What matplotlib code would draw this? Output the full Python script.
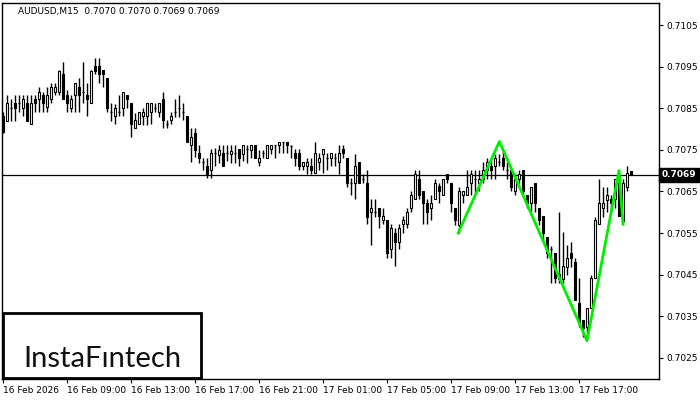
import matplotlib
matplotlib.use("Agg")
import matplotlib.pyplot as plt
import matplotlib.transforms as mtransforms
from matplotlib.patches import Rectangle
import numpy as np
import pandas as pd

# ------------------------------------------------------
# DATA  (AUDUSD M15)
# ------------------------------------------------------

symbol = "AUDUSD,M15"
last_ohlc = "0.7070 0.7070 0.7069 0.7069"
last_price = 0.7069
first_bar_time = "2026-02-16 05:00"

opens = [
    0.70832, 0.70820, 0.70850, 0.70863, 0.70863, 0.70850, 0.70863, 0.70812, 0.70871, 0.70871,
    0.70882, 0.70852, 0.70871, 0.70890, 0.70890, 0.70932, 0.70882, 0.70850, 0.70882, 0.70900,
    0.70890, 0.70882, 0.70862, 0.70951, 0.70951, 0.70942, 0.70922, 0.70840, 0.70831, 0.70840,
    0.70850, 0.70882, 0.70862, 0.70802, 0.70812, 0.70831, 0.70831, 0.70840, 0.70850, 0.70840,
    0.70871, 0.70812, 0.70822, 0.70840, 0.70850, 0.70840, 0.70831, 0.70762, 0.70791, 0.70742,
    0.70721, 0.70711, 0.70701, 0.70742, 0.70738, 0.70742, 0.70742, 0.70739, 0.70742, 0.70751,
    0.70740, 0.70751, 0.70750, 0.70762, 0.70720, 0.70742, 0.70730, 0.70751, 0.70762, 0.70762,
    0.70770, 0.70770, 0.70758, 0.70742, 0.70742, 0.70710, 0.70710, 0.70712, 0.70694, 0.70721,
    0.70740, 0.70730, 0.70730, 0.70730, 0.70720, 0.70751, 0.70730, 0.70670, 0.70670, 0.70720,
    0.70681, 0.70670, 0.70601, 0.70601, 0.70609, 0.70581, 0.70581, 0.70511, 0.70551, 0.70529,
    0.70571, 0.70571, 0.70609, 0.70631, 0.70681, 0.70651, 0.70621, 0.70610, 0.70631, 0.70662,
    0.70641, 0.70692, 0.70671, 0.70610, 0.70569, 0.70641, 0.70641, 0.70670, 0.70681, 0.70670,
    0.70681, 0.70701, 0.70711, 0.70711, 0.70720, 0.70730, 0.70701, 0.70701, 0.70650, 0.70681,
    0.70701, 0.70641, 0.70621, 0.70671, 0.70610, 0.70591, 0.70540, 0.70511, 0.70501, 0.70439,
    0.70439, 0.70469, 0.70501, 0.70481, 0.70381, 0.70341, 0.70325, 0.70369, 0.70441, 0.70571,
    0.70610, 0.70630, 0.70631, 0.70631, 0.70670, 0.70579, 0.70661, 0.70700,
]

highs = [
    0.70842, 0.70882, 0.70871, 0.70882, 0.70882, 0.70882, 0.70882, 0.70882, 0.70882, 0.70900,
    0.70890, 0.70901, 0.70910, 0.70910, 0.70942, 0.70960, 0.70894, 0.70882, 0.70910, 0.70923,
    0.70960, 0.70910, 0.70942, 0.70970, 0.70970, 0.70942, 0.70922, 0.70862, 0.70860, 0.70882,
    0.70890, 0.70882, 0.70862, 0.70839, 0.70840, 0.70850, 0.70862, 0.70862, 0.70862, 0.70862,
    0.70890, 0.70822, 0.70840, 0.70871, 0.70882, 0.70862, 0.70831, 0.70802, 0.70802, 0.70762,
    0.70730, 0.70730, 0.70751, 0.70754, 0.70762, 0.70762, 0.70762, 0.70762, 0.70762, 0.70751,
    0.70762, 0.70762, 0.70762, 0.70762, 0.70750, 0.70750, 0.70762, 0.70762, 0.70762, 0.70770,
    0.70770, 0.70770, 0.70762, 0.70751, 0.70751, 0.70720, 0.70730, 0.70730, 0.70770, 0.70742,
    0.70751, 0.70742, 0.70742, 0.70742, 0.70762, 0.70762, 0.70730, 0.70682, 0.70740, 0.70720,
    0.70692, 0.70701, 0.70631, 0.70631, 0.70609, 0.70609, 0.70581, 0.70571, 0.70561, 0.70571,
    0.70591, 0.70609, 0.70651, 0.70701, 0.70701, 0.70651, 0.70631, 0.70641, 0.70681, 0.70671,
    0.70681, 0.70692, 0.70671, 0.70610, 0.70661, 0.70651, 0.70701, 0.70701, 0.70701, 0.70701,
    0.70720, 0.70730, 0.70730, 0.70740, 0.70740, 0.70750, 0.70720, 0.70701, 0.70692, 0.70701,
    0.70701, 0.70641, 0.70661, 0.70671, 0.70610, 0.70591, 0.70540, 0.70519, 0.70501, 0.70601,
    0.70553, 0.70521, 0.70529, 0.70489, 0.70441, 0.70341, 0.70369, 0.70449, 0.70589, 0.70681,
    0.70661, 0.70661, 0.70641, 0.70681, 0.70681, 0.70681, 0.70710, 0.70700,
]

lows = [
    0.70790, 0.70820, 0.70820, 0.70820, 0.70842, 0.70831, 0.70820, 0.70812, 0.70842, 0.70842,
    0.70842, 0.70842, 0.70862, 0.70882, 0.70882, 0.70871, 0.70842, 0.70842, 0.70842, 0.70842,
    0.70862, 0.70831, 0.70862, 0.70932, 0.70910, 0.70900, 0.70842, 0.70820, 0.70812, 0.70831,
    0.70831, 0.70850, 0.70780, 0.70802, 0.70812, 0.70810, 0.70810, 0.70812, 0.70840, 0.70830,
    0.70802, 0.70802, 0.70812, 0.70830, 0.70830, 0.70822, 0.70770, 0.70721, 0.70733, 0.70718,
    0.70701, 0.70682, 0.70682, 0.70710, 0.70718, 0.70710, 0.70722, 0.70718, 0.70718, 0.70710,
    0.70722, 0.70718, 0.70730, 0.70730, 0.70710, 0.70730, 0.70730, 0.70740, 0.70730, 0.70742,
    0.70742, 0.70742, 0.70730, 0.70710, 0.70702, 0.70702, 0.70692, 0.70692, 0.70694, 0.70702,
    0.70694, 0.70702, 0.70710, 0.70710, 0.70692, 0.70730, 0.70660, 0.70641, 0.70631, 0.70670,
    0.70670, 0.70571, 0.70521, 0.70589, 0.70561, 0.70571, 0.70489, 0.70489, 0.70471, 0.70511,
    0.70551, 0.70561, 0.70601, 0.70631, 0.70631, 0.70571, 0.70571, 0.70581, 0.70631, 0.70621,
    0.70641, 0.70670, 0.70601, 0.70569, 0.70549, 0.70621, 0.70641, 0.70641, 0.70641, 0.70651,
    0.70670, 0.70681, 0.70681, 0.70681, 0.70711, 0.70701, 0.70681, 0.70651, 0.70641, 0.70670,
    0.70641, 0.70610, 0.70601, 0.70601, 0.70569, 0.70533, 0.70490, 0.70429, 0.70429, 0.70429,
    0.70429, 0.70449, 0.70469, 0.70389, 0.70325, 0.70301, 0.70301, 0.70369, 0.70441, 0.70571,
    0.70589, 0.70601, 0.70601, 0.70610, 0.70590, 0.70571, 0.70650, 0.70690,
]

closes = [
    0.70793, 0.70862, 0.70850, 0.70850, 0.70863, 0.70871, 0.70820, 0.70863, 0.70863, 0.70890,
    0.70862, 0.70882, 0.70900, 0.70900, 0.70940, 0.70871, 0.70862, 0.70871, 0.70910, 0.70882,
    0.70890, 0.70871, 0.70940, 0.70940, 0.70932, 0.70932, 0.70850, 0.70840, 0.70850, 0.70840,
    0.70890, 0.70871, 0.70812, 0.70822, 0.70840, 0.70840, 0.70862, 0.70862, 0.70850, 0.70862,
    0.70822, 0.70812, 0.70831, 0.70840, 0.70850, 0.70840, 0.70770, 0.70780, 0.70750, 0.70730,
    0.70721, 0.70690, 0.70742, 0.70742, 0.70750, 0.70710, 0.70742, 0.70748, 0.70742, 0.70730,
    0.70762, 0.70751, 0.70762, 0.70730, 0.70730, 0.70742, 0.70762, 0.70762, 0.70762, 0.70770,
    0.70770, 0.70762, 0.70758, 0.70730, 0.70710, 0.70720, 0.70720, 0.70702, 0.70742, 0.70730,
    0.70751, 0.70730, 0.70742, 0.70730, 0.70742, 0.70742, 0.70670, 0.70670, 0.70710, 0.70670,
    0.70681, 0.70589, 0.70609, 0.70601, 0.70591, 0.70591, 0.70501, 0.70561, 0.70529, 0.70561,
    0.70581, 0.70601, 0.70641, 0.70692, 0.70641, 0.70621, 0.70601, 0.70621, 0.70671, 0.70651,
    0.70681, 0.70681, 0.70621, 0.70581, 0.70651, 0.70651, 0.70661, 0.70692, 0.70681, 0.70681,
    0.70701, 0.70720, 0.70701, 0.70730, 0.70720, 0.70711, 0.70701, 0.70660, 0.70681, 0.70692,
    0.70650, 0.70621, 0.70661, 0.70621, 0.70581, 0.70549, 0.70501, 0.70511, 0.70441, 0.70451,
    0.70471, 0.70489, 0.70489, 0.70389, 0.70333, 0.70321, 0.70369, 0.70441, 0.70581, 0.70621,
    0.70621, 0.70641, 0.70621, 0.70681, 0.70590, 0.70670, 0.70694, 0.70690,
]

# pattern (green zigzag): bar positions and prices of its turning points
pattern_bars = [113.8, 124.1, 146.0, 154.0, 155.0]
pattern_prices = [0.70550, 0.70770, 0.70291, 0.70700, 0.70571]

price_ticks = [0.7025, 0.7035, 0.7045, 0.7055, 0.7065, 0.7075, 0.7085, 0.7095, 0.7105]
time_tick_every = 16

# ------------------------------------------------------
# FIGURE
# ------------------------------------------------------

o = np.array(opens)
h = np.array(highs)
l = np.array(lows)
c = np.array(closes)
n = len(o)
x = np.arange(n)
times = pd.date_range(first_bar_time, periods=n, freq="15min")

fig = plt.figure(figsize=(7, 4), dpi=100)
ax = fig.add_axes([1.5 / 700, 21 / 400, 657.5 / 700, 376 / 400])

ax.axhline(last_price, color="black", lw=0.9, zorder=0.5)

# candles
ax.vlines(x, l, h, color="black", lw=1, zorder=1)
doji = np.isclose(o, c)
body = ~doji
up = c > o
faces = np.where(up, "white", "black")
ax.bar(x[body], np.abs(c - o)[body], bottom=np.minimum(o, c)[body], width=0.55,
       color=faces[body], edgecolor="black", lw=0.8, zorder=2)
ax.hlines(c[doji], x[doji] - 0.35, x[doji] + 0.35, color="black", lw=1, zorder=2)

# pattern
ax.plot(pattern_bars, pattern_prices, color="#00ee00", lw=2, zorder=4)

ax.set_xlim(-0.375, 164)
ax.set_ylim(0.70199, 0.71103)

# axes / ticks
ax.yaxis.tick_right()
ax.set_yticks(price_ticks)
ax.set_yticklabels([f"{p:.4f}" for p in price_ticks])
tick_pos = x[::time_tick_every]
tick_lbl = [t.strftime("%d %b %H:%M") for t in times[::time_tick_every]]
tick_lbl[0] = times[0].strftime("%d %b %Y")
ax.set_xticks(tick_pos)
ax.set_xticklabels(tick_lbl, ha="left")
ax.tick_params(axis="both", labelsize=6.5, length=3, width=0.8, pad=2, direction="out")

for s in ax.spines.values():
    s.set_linewidth(1)

# last price label
trans = mtransforms.blended_transform_factory(ax.transAxes, ax.transData)
ax.text(1.004, last_price, f"{last_price:.4f}", transform=trans, va="center", ha="left",
        color="white", fontsize=6.5, fontweight="bold",
        bbox=dict(facecolor="black", edgecolor="black", pad=1.6))

ax.text(0.025, 0.99, f"{symbol}  {last_ohlc}", transform=ax.transAxes,
        fontsize=6.5, va="top", ha="left")

# logo
fig.patches.append(Rectangle((3 / 700, 22 / 400), 198 / 700, 65 / 400, transform=fig.transFigure,
                             facecolor="white", edgecolor="black", lw=2, zorder=5))
fig.text(102 / 700, 41 / 400, "InstaF\u0131ntech", family="Lato", fontsize=21,
         ha="center", va="center", color="#111111", zorder=6)

fig.savefig("out.png", dpi=100)
plt.close(fig)
